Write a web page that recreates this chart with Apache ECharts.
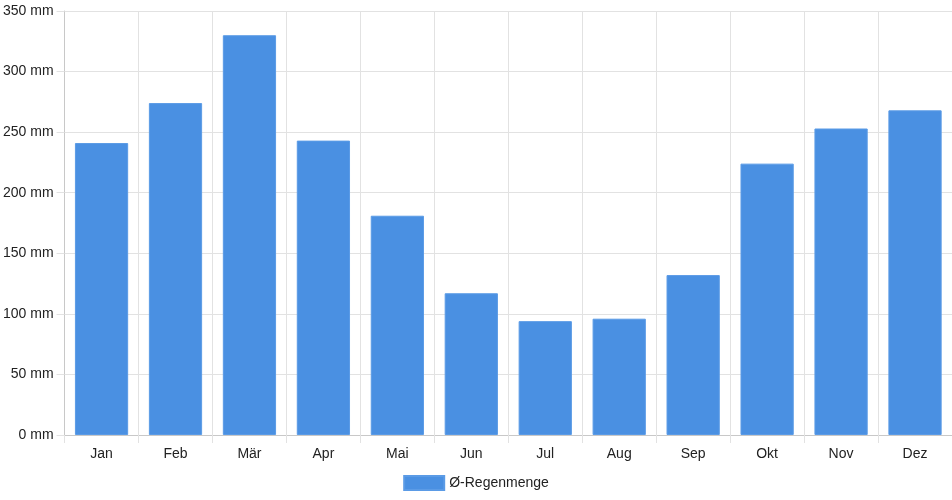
<!DOCTYPE html>
<html>
<head>
<meta charset="utf-8">
<script src="https://cdn.jsdelivr.net/npm/echarts@6/dist/echarts.min.js"></script>
<style>
  html, body { margin: 0; padding: 0; background: #fff; }
  #main { width: 952px; height: 500px; }
</style>
</head>
<body>
<div id="main"></div>
<script>
// Monate und mittlere Regenmenge (mm)
const months = ['Jan', 'Feb', 'Mär', 'Apr', 'Mai', 'Jun', 'Jul', 'Aug', 'Sep', 'Okt', 'Nov', 'Dez'];
const rain = [241, 274, 330, 243, 181, 117, 94, 96, 132, 224, 253, 268];
const seriesName = 'Ø-Regenmenge';

const chartDom = document.getElementById('main');
const myChart = echarts.init(chartDom);

const gridColor = '#e2e2e2';
const axisColor = '#c8c8c8';
const textStyle = { fontFamily: 'Liberation Sans, Arial, sans-serif', fontSize: 14, color: '#222' };

const option = {
    animation: false,
    textStyle: textStyle,
    grid: { left: 64, right: 0, top: 11, bottom: 65, containLabel: false },
    legend: {
        data: [{ name: seriesName, icon: 'rect' }],
        bottom: 9,
        left: 'center',
        itemWidth: 40,
        itemHeight: 14,
        itemGap: 10,
        padding: 0,
        textStyle: textStyle
    },
    xAxis: {
        type: 'category',
        data: months,
        axisLine: { lineStyle: { color: axisColor } },
        axisTick: { show: true, length: 8, lineStyle: { color: gridColor } },
        axisLabel: { margin: 12, ...textStyle },
        splitLine: { show: true, lineStyle: { color: gridColor } }
    },
    yAxis: {
        type: 'value',
        min: 0,
        max: 350,
        interval: 50,
        axisLine: { show: true, lineStyle: { color: axisColor } },
        axisTick: { show: true, length: 8, lineStyle: { color: gridColor } },
        axisLabel: { margin: 11, formatter: '{value} mm', ...textStyle },
        splitLine: { show: true, lineStyle: { color: gridColor } }
    },
    series: [
        {
            name: seriesName,
            type: 'bar',
            data: rain,
            barWidth: '72%',
            itemStyle: { color: '#4a90e2', borderColor: '#5b9be6', borderWidth: 1 }
        }
    ]
};

myChart.setOption(option);
</script>
</body>
</html>
